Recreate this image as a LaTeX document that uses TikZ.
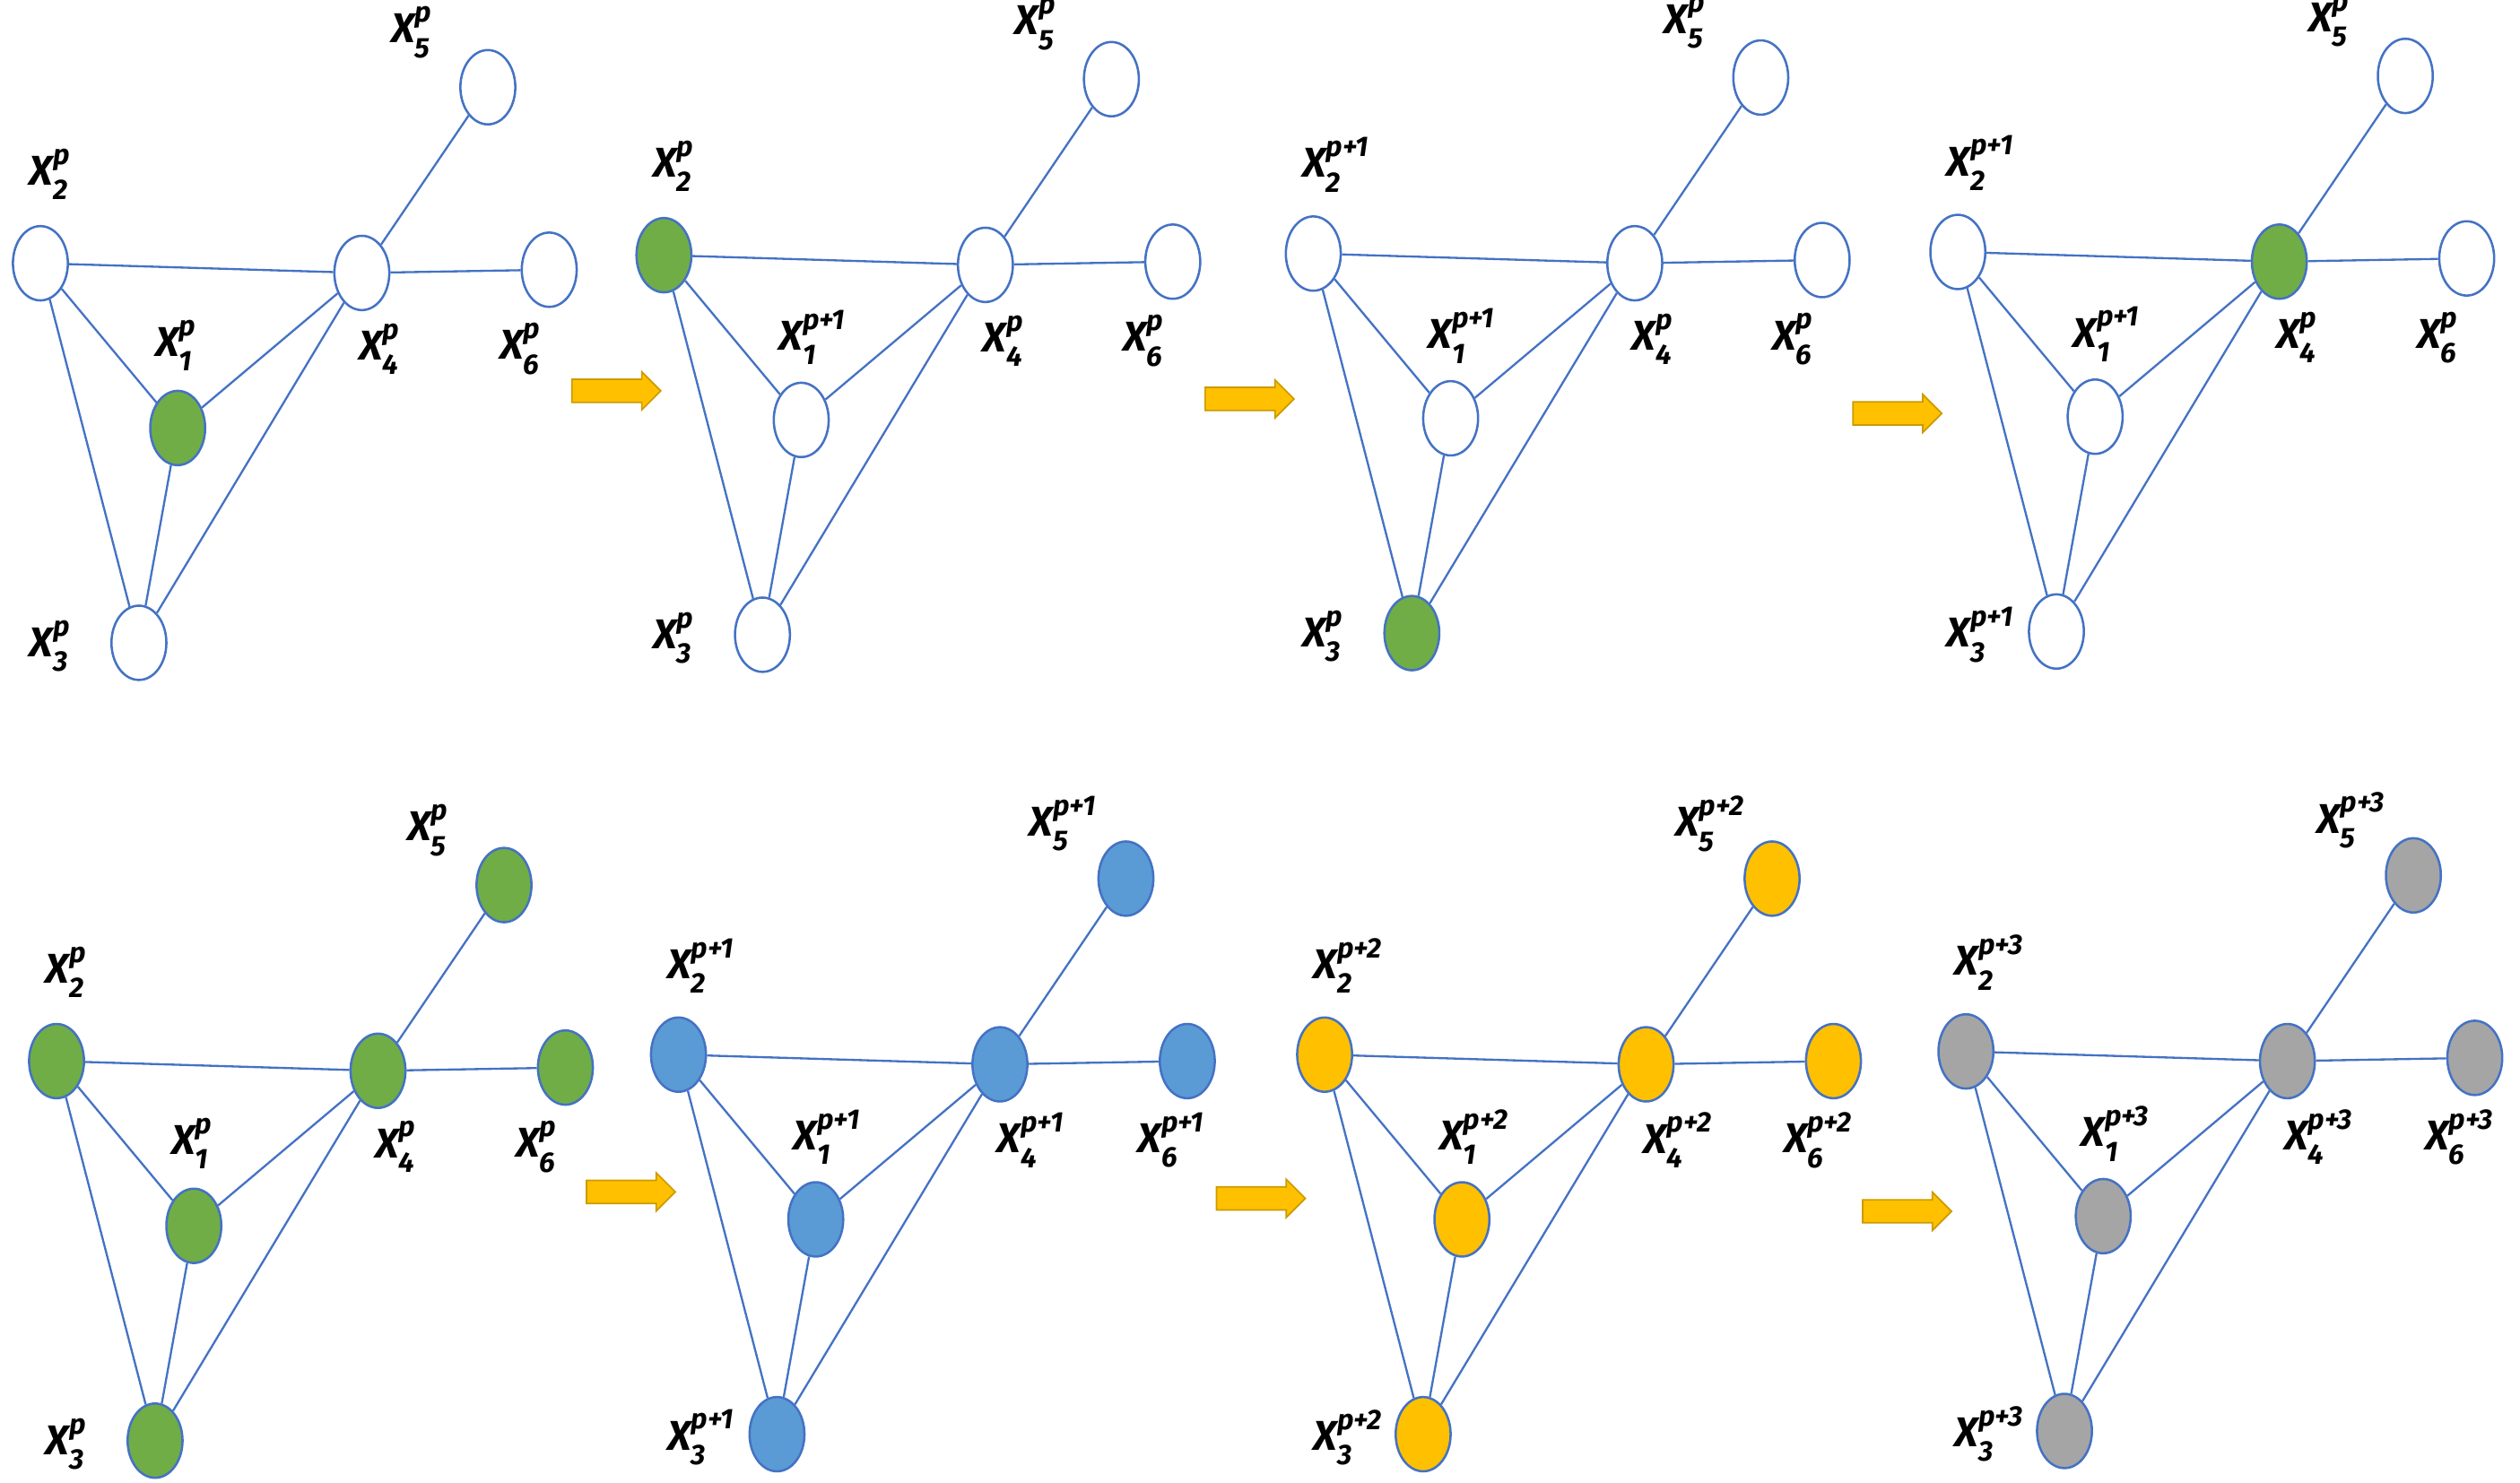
\documentclass[tikz,border=0pt]{standalone}
\usepackage{fontspec}
\setmainfont{Fira Sans}
\usetikzlibrary{shapes.arrows,shapes.geometric}
\definecolor{eb}{HTML}{4472C4}
\definecolor{gr}{HTML}{70AD47}
\definecolor{bl}{HTML}{5B9BD5}
\definecolor{yl}{HTML}{FFC000}
\definecolor{gy}{HTML}{A5A5A5}
\tikzset{nd/.style={ellipse,draw=eb,line width=1.2pt,minimum width=1.02cm,minimum height=1.38cm,inner sep=0pt},
ed/.style={draw=eb,line width=1.1pt},
lbl/.style={font=\fontsize{22}{24}\selectfont\bfseries\itshape,anchor=west,inner sep=0pt},
arr/.style={single arrow,fill=yl,draw=yl!80!black,line width=0.8pt,inner xsep=0pt,inner ysep=0.2cm,single arrow head extend=0.14cm,single arrow head indent=0pt,minimum height=1.65cm}}
\newcommand\lab[2]{X\rlap{\raisebox{.5em}{\fontsize{15}{16}\selectfont #2}}\raisebox{-.35em}{\fontsize{15}{16}\selectfont #1}}
\newcommand\pnl[3]{%
\begin{scope}[shift={(#2,#3)}]
\node[nd,fill=\fa] (#1a) at (110,265) {};
\node[nd,fill=\fb] (#1b) at (25,163) {};
\node[nd,fill=\fc] (#1c) at (86,398) {};
\node[nd,fill=\fd] (#1d) at (224,169) {};
\node[nd,fill=\fe] (#1e) at (302,54) {};
\node[nd,fill=\ff] (#1f) at (340,167) {};
\draw[ed] (#1b)--(#1d) (#1b)--(#1a) (#1b)--(#1c) (#1a)--(#1d) (#1a)--(#1c) (#1c)--(#1d) (#1d)--(#1e) (#1d)--(#1f);
\node[lbl] at (96,214) {\lab{1}{\sa}};
\node[lbl] at (18,108) {\lab{2}{\sb}};
\node[lbl] at (18,400) {\lab{3}{\sc}};
\node[lbl] at (222,216) {\lab{4}{\sd}};
\node[lbl] at (242,20) {\lab{5}{\se}};
\node[lbl] at (309,216) {\lab{6}{\sf}};
\end{scope}}
\newcommand\setf[6]{\def\fa{#1}\def\fb{#2}\def\fc{#3}\def\fd{#4}\def\fe{#5}\def\ff{#6}}
\newcommand\sets[6]{\def\sa{#1}\def\sb{#2}\def\sc{#3}\def\sd{#4}\def\se{#5}\def\sf{#6}}
\begin{document}
\begin{tikzpicture}[x=0.03cm,y=-0.03cm]
\useasboundingbox (0,0) rectangle (1560,918);
\setf{gr}{white}{white}{white}{white}{white}\sets{p}{p}{p}{p}{p}{p}
\pnl{A}{0}{0}
\setf{white}{gr}{white}{white}{white}{white}\sets{p+1}{p}{p}{p}{p}{p}
\pnl{B}{386}{-5}
\setf{white}{white}{gr}{white}{white}{white}\sets{p+1}{p+1}{p}{p}{p}{p}
\pnl{C}{788}{-6}
\setf{white}{white}{white}{gr}{white}{white}\sets{p+1}{p+1}{p+1}{p}{p}{p}
\pnl{D}{1187}{-7}
\setf{gr}{gr}{gr}{gr}{gr}{gr}\sets{p}{p}{p}{p}{p}{p}
\pnl{E}{10}{494}
\setf{bl}{bl}{bl}{bl}{bl}{bl}\sets{p+1}{p+1}{p+1}{p+1}{p+1}{p+1}
\pnl{F}{395}{490}
\setf{yl}{yl}{yl}{yl}{yl}{yl}\sets{p+2}{p+2}{p+2}{p+2}{p+2}{p+2}
\pnl{G}{795}{490}
\setf{gy}{gy}{gy}{gy}{gy}{gy}\sets{p+3}{p+3}{p+3}{p+3}{p+3}{p+3}
\pnl{H}{1192}{488}
\node[arr] (r1) at (378,242) {};
\node[arr] (r2) at (770,247) {};
\node[arr] (r3) at (1171,256) {};
\node[arr] (r4) at (387,738) {};
\node[arr] (r5) at (777,742) {};
\node[arr] (r6) at (1177,750) {};
\end{tikzpicture}
\end{document}
